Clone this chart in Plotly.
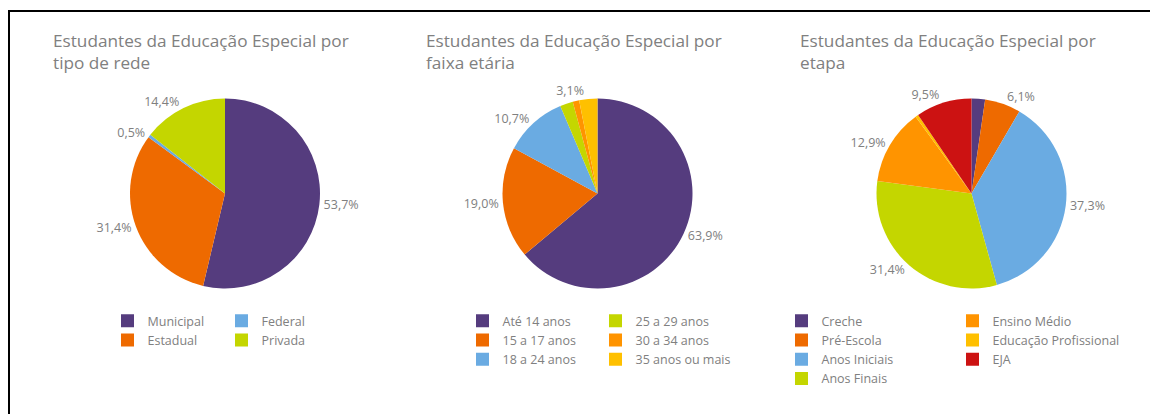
import plotly.graph_objects as go

# page body has an 8px margin; figure sized so it fits the 1160x414 window
OFF = 8
W, H = 1160 - 2 * OFF, 414 - OFF

# ---------- data ----------
rede_labels = ["Municipal", "Estadual", "Federal", "Privada"]
rede_values = [53.7, 31.4, 0.5, 14.4]
rede_show = [True, True, True, True]

idade_labels = ["Até 14 anos", "15 a 17 anos", "18 a 24 anos", "25 a 29 anos", "30 a 34 anos", "35 anos ou mais"]
idade_values = [63.9, 19.0, 10.7, 2.2, 1.1, 3.1]
idade_show = [True, True, True, False, False, True]

etapa_labels = ["Creche", "Pré-Escola", "Anos Iniciais", "Anos Finais", "Ensino Médio", "Educação Profissional", "EJA"]
etapa_values = [2.3, 6.1, 37.3, 31.4, 12.9, 0.5, 9.5]
etapa_show = [False, True, True, True, True, False, True]

titles = ["Estudantes da Educação Especial por<br>tipo de rede",
          "Estudantes da Educação Especial por<br>faixa etária",
          "Estudantes da Educação Especial por<br>etapa"]

# ---------- styles ----------
PURPLE, ORANGE, BLUE, LIME = "#553C7E", "#EE6A00", "#6AABE2", "#C4D600"
ORANGE2, YELLOW, RED = "#FF9400", "#FFC000", "#CC1212"
rede_colors = [PURPLE, ORANGE, BLUE, LIME]
idade_colors = [PURPLE, ORANGE, BLUE, LIME, ORANGE2, YELLOW]
etapa_colors = [PURPLE, ORANGE, BLUE, LIME, ORANGE2, YELLOW, RED]

FONT = "Open Sans"
GRAY = "#808080"


def px(x):
    return (x - OFF) / W


def py(y):
    return 1 - (y - OFF) / H


def fmt(v, show):
    return (f"{v:.1f}%".replace(".", ",")) if show else ""


fig = go.Figure()

charts = [
    (rede_labels, rede_values, rede_show, rede_colors, 225, 193.5, 2),
    (idade_labels, idade_values, idade_show, idade_colors, 597.5, 193.5, 3),
    (etapa_labels, etapa_values, etapa_show, etapa_colors, 971.5, 193.5, 4),
]
R = 95
legend_cols = [(125, 239), (480, 613), (799, 970)]

legend_layout = {}
for ci, (labs, vals, shows, cols, cx, cy, per_col) in enumerate(charts):
    fig.add_trace(go.Pie(
        labels=labs, values=vals,
        text=[fmt(v, s) for v, s in zip(vals, shows)],
        textinfo="text", textposition="outside",
        textfont=dict(family=FONT, size=12.5, color=GRAY),
        marker=dict(colors=cols, line=dict(width=0)),
        sort=False, direction="clockwise", rotation=0,
        showlegend=False, hoverinfo="label+percent",
        domain=dict(x=[px(cx - R), px(cx + R)], y=[py(cy + R), py(cy - R)]),
    ))
    # legend entries (two columns, column-major)
    for k, (lab, col) in enumerate(zip(labs, cols)):
        col_idx = k // per_col
        n = ci * 2 + col_idx + 1
        lname = "legend" if n == 1 else f"legend{n}"
        fig.add_trace(go.Scatter(
            x=[None], y=[None], mode="markers", name=lab,
            marker=dict(symbol="square", size=13, color=col, line=dict(width=0)),
            legend=lname, showlegend=True,
        ))
    for col_idx in range(2):
        n = ci * 2 + col_idx + 1
        lname = "legend" if n == 1 else f"legend{n}"
        mx = legend_cols[ci][col_idx]
        legend_layout[lname] = dict(
            x=px(mx + 6.5 - 20 - 4), y=py(306), xanchor="left", yanchor="top",
            orientation="v", bgcolor="rgba(0,0,0,0)",
            font=dict(family=FONT, size=12.5, color=GRAY),
            tracegroupgap=0, itemclick=False, itemdoubleclick=False,
        )
    fig.add_annotation(
        text=titles[ci], x=px(cx - 174), y=py(27), xref="paper", yref="paper",
        xanchor="left", yanchor="top", align="left", showarrow=False,
        font=dict(family=FONT, size=17.2, color=GRAY),
    )

# frame lines
fig.add_shape(type="line", xref="paper", yref="paper", x0=px(8), x1=px(1150),
              y0=py(11), y1=py(11), line=dict(color="black", width=2))
fig.add_shape(type="line", xref="paper", yref="paper", x0=px(9), x1=px(9),
              y0=py(10), y1=py(414), line=dict(color="black", width=2))

fig.update_layout(
    width=W, height=H, margin=dict(l=0, r=0, t=0, b=0),
    paper_bgcolor="white", plot_bgcolor="white",
    xaxis=dict(visible=False), yaxis=dict(visible=False),
    **legend_layout,
)
fig.write_html("out.html",
               post_script="document.documentElement.style.overflow='hidden';"
                           "document.body.style.overflow='hidden';")
